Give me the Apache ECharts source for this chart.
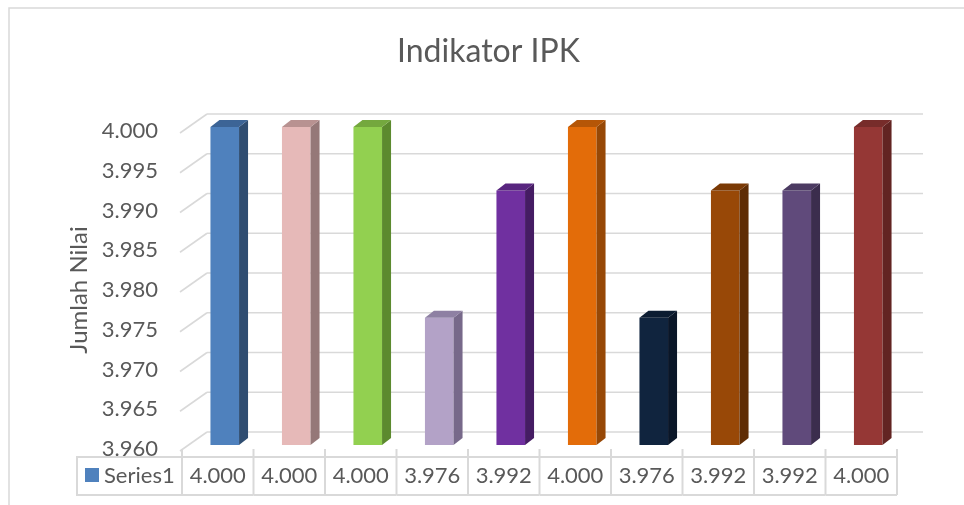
<!DOCTYPE html>
<html>
<head>
<meta charset="utf-8">
<title>Indikator IPK</title>
<script src="https://cdn.jsdelivr.net/npm/echarts@6/dist/echarts.min.js"></script>
<style>
  html, body { margin: 0; padding: 0; background: #fff; }
  #main { width: 964px; height: 505px; }
</style>
</head>
<body>
<div id="main"></div>
<script>
// data
var categories = ['1', '2', '3', '4', '5', '6', '7', '8', '9', '10'];
var values = [4.000, 4.000, 4.000, 3.976, 3.992, 4.000, 3.976, 3.992, 3.992, 4.000];
var yTicks = [3.960, 3.965, 3.970, 3.975, 3.980, 3.985, 3.990, 3.995, 4.000];
var seriesName = 'Series1';

// warna tiap batang: depan, samping, atas
var frontColors = ['#4f81bd', '#e6b9b8', '#92d050', '#b3a2c7', '#7030a0', '#e36c09', '#10243e', '#984807', '#604a7b', '#953735'];
var sideColors  = ['#2f4d71', '#957878', '#5c8a2e', '#77698a', '#451c63', '#974806', '#0a1628', '#5f2c04', '#3b2d4d', '#622422'];
var topColors   = ['#3c6496', '#b89291', '#74a83e', '#8e80a3', '#58257f', '#b55607', '#0c1c31', '#7a3905', '#4c3b62', '#772c2a'];

var font = 'Lato, "Noto Sans", sans-serif';
var textColor = '#595959';
var lineColor = '#d9d9d9';
var yMin = 3.96, yMax = 4.0;
var gridLeft = 182;

var myChart = echarts.init(document.getElementById('main'));

// garis grid dinding belakang (3D)
function renderWall(params, api) {
    var cs = params.coordSys;
    var p = api.coord([0, api.value(1)]);
    var y = p[1];
    return {
        type: 'group',
        children: [
            { type: 'line', shape: { x1: cs.x - 2, y1: y + 2, x2: cs.x + 25, y2: y - 17 },
              style: { stroke: lineColor, lineWidth: 1.6 } },
            { type: 'line', shape: { x1: cs.x + 25, y1: y - 17, x2: cs.x + cs.width + 26, y2: y - 17 },
              style: { stroke: lineColor, lineWidth: 1.6 } }
        ]
    };
}

// batang 3D
function renderBar(params, api) {
    var i = params.dataIndex;
    var pt = api.coord([api.value(0), api.value(1)]);
    var base = api.coord([api.value(0), yMin]);
    var bw = api.size([1, 0])[0] * 0.4;
    var cx = pt[0] + 7;
    var top = pt[1] - 4, bottom = base[1] - 4;
    var l = cx - bw / 2, r = cx + bw / 2;
    var dx = 9, dy = -7;
    return {
        type: 'group',
        children: [
            { type: 'rect', shape: { x: l, y: top, width: bw, height: bottom - top },
              style: { fill: frontColors[i] } },
            { type: 'polygon', shape: { points: [[r, top], [r + dx, top + dy], [r + dx, bottom + dy], [r, bottom]] },
              style: { fill: sideColors[i] } },
            { type: 'polygon', shape: { points: [[l, top], [r, top], [r + dx, top + dy], [l + dx, top + dy]] },
              style: { fill: topColors[i] } }
        ]
    };
}

// tabel data di bawah grafik
function renderTable(params, api) {
    var i = params.dataIndex;
    var base = api.coord([api.value(0), yMin]);
    var w = api.size([1, 0])[0];
    var x0 = base[0] - w / 2, x1 = base[0] + w / 2;
    var yTop = base[1] + 8, yBot = base[1] + 46;
    var children = [
        { type: 'line', shape: { x1: x0, y1: base[1], x2: x0, y2: yBot }, style: { stroke: lineColor, lineWidth: 2 } },
        { type: 'line', shape: { x1: x0, y1: yTop, x2: x1, y2: yTop }, style: { stroke: lineColor, lineWidth: 2 } },
        { type: 'line', shape: { x1: x0, y1: yBot, x2: x1, y2: yBot }, style: { stroke: lineColor, lineWidth: 2 } },
        { type: 'text', x: base[0], y: (yTop + yBot) / 2,
          style: { text: api.value(1).toFixed(3), fill: textColor, font: '22px ' + font,
                   textAlign: 'center', textVerticalAlign: 'middle' } }
    ];
    if (i === values.length - 1) {
        children.push({ type: 'line', shape: { x1: x1, y1: base[1], x2: x1, y2: yBot },
                        style: { stroke: lineColor, lineWidth: 2 } });
    }
    return { type: 'group', children: children };
}

var option = {
    backgroundColor: '#fff',
    animation: false,
    title: {
        text: 'Indikator IPK',
        left: 397,
        top: 36,
        padding: 0,
        textStyle: { fontFamily: font, fontSize: 32, fontWeight: 'normal', color: textColor }
    },
    grid: { left: gridLeft, right: 67, top: 131, bottom: 56 },
    xAxis: {
        type: 'category',
        data: categories,
        axisLine: { show: false },
        axisTick: { show: false },
        axisLabel: { show: false },
        splitLine: { show: false }
    },
    yAxis: {
        type: 'value',
        min: yMin,
        max: yMax,
        interval: 0.005,
        name: 'Jumlah Nilai',
        nameLocation: 'middle',
        nameRotate: 90,
        nameGap: 88,
        nameTextStyle: { fontFamily: font, fontSize: 24, color: textColor },
        axisLine: { show: false },
        axisTick: { show: false },
        splitLine: { show: false },
        axisLabel: {
            margin: 24,
            fontFamily: font,
            fontSize: 22,
            color: textColor,
            formatter: function (v) { return v.toFixed(3); }
        }
    },
    graphic: [
        { type: 'rect', shape: { x: 9, y: 8, width: 1000, height: 600 },
          style: { fill: 'none', stroke: lineColor, lineWidth: 1.5 }, z: -10 },
        { type: 'polyline', shape: { points: [[gridLeft, 457], [gridLeft - 105, 457], [gridLeft - 105, 495], [gridLeft, 495]] },
          style: { fill: 'none', stroke: lineColor, lineWidth: 2 } },
        { type: 'rect', shape: { x: gridLeft - 97, y: 468, width: 14, height: 14 },
          style: { fill: frontColors[0] } },
        { type: 'text', x: gridLeft - 78, y: 476,
          style: { text: seriesName, fill: textColor, font: '22px ' + font, textVerticalAlign: 'middle' } }
    ],
    series: [
        {
            type: 'custom',
            name: 'wall',
            z: 1,
            renderItem: renderWall,
            data: yTicks.map(function (v) { return [0, v]; })
        },
        {
            type: 'custom',
            name: seriesName,
            z: 5,
            renderItem: renderBar,
            data: values.map(function (v, i) { return [i, v]; })
        },
        {
            type: 'custom',
            name: 'table',
            z: 6,
            renderItem: renderTable,
            data: values.map(function (v, i) { return [i, v]; })
        }
    ]
};

myChart.setOption(option);
</script>
</body>
</html>
